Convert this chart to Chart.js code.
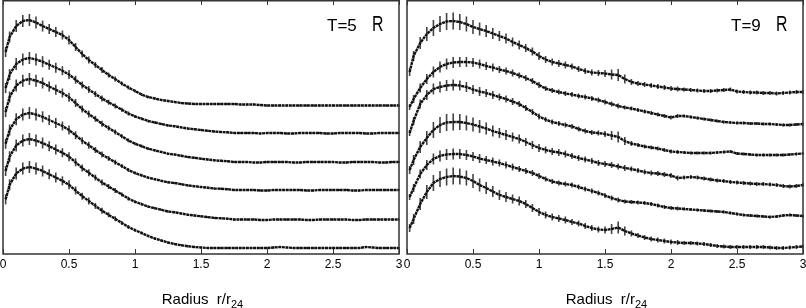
<!DOCTYPE html>
<html><head><meta charset="utf-8">
<script src="https://cdn.jsdelivr.net/npm/chart.js@4.4.1/dist/chart.umd.min.js"></script>
<style>
html,body{margin:0;padding:0;background:#fff;}
#wrap{position:relative;width:806px;height:308px;overflow:hidden;background:#fff;}
canvas{position:absolute;top:0;}
#c1{left:0;}
#c2{left:403px;}
</style></head><body>
<div id="wrap"><canvas id="c1" width="403" height="308"></canvas><canvas id="c2" width="403" height="308"></canvas></div>
<script>
// Radius in units of r24
const radius = [0.02,0.05,0.1,0.15,0.2,0.25,0.3,0.35,0.4,0.45,0.5,0.55,0.6,0.65,0.7,0.75,0.8,0.85,0.9,0.95,
  1.0,1.05,1.1,1.15,1.2,1.25,1.3,1.35,1.4,1.45,1.5,1.55,1.6,1.65,1.7,1.75,1.8,1.85,1.9,1.95,
  2.0,2.05,2.1,2.15,2.2,2.25,2.3,2.35,2.4,2.45,2.5,2.55,2.6,2.65,2.7,2.75,2.8,2.85,2.9,2.95,3.0];

const xTicks = [0,0.5,1,1.5,2,2.5,3];
const xTickLabels = ['0','0.5','1','1.5','2','2.5','3'];
const axisTitle = 'Radius  r/r';
const axisTitleSub = '24';

// Offset profiles (arbitrary units, increasing downward), T=5 panel
const t5p1 = [52,37,26,21,20,22.5,26,29,32,35,40,47,54,60,65,70,75,79,83.5,87.5,
  91,94.5,97,98.5,100,101,102,103,103.5,104,104,104,104,104,104,104,104.5,104.5,104.5,105,
  105.5,105.5,105.5,105.5,105.5,105.5,105.5,105.5,105.5,105.5,105.5,105.5,105.5,105.5,105.5,105.5,105.5,105.5,105.5,105.5,105.5];
const t5p2 = [88,74.5,64,59.5,58,59.5,61.7,64.7,67.7,70.7,74.5,79.7,85,89.5,94,98.5,102.2,106,109.7,113.5,
  116.5,118.7,121,122.5,124,125.5,126.2,127.4,128.5,129.2,130,130.8,131.5,132,132.3,133,133,133,133,133.5,
  133,133,133,133.5,133.5,133,133,133,133,133.5,133.5,133,133,133,133,133.5,133.5,133,133,133,133];
const t5p3 = [112,97,85.6,80.7,79,80.7,83,86.5,89.8,93,97.3,103,109,114,118.8,123.8,128,132,136.3,140.4,
  143.7,146.2,148.7,150.4,152,153.7,154.5,155.8,157,157.8,158.7,159.5,160.3,160.8,161.2,162,162,162,162.5,162.5,
  162,162,162,162,162.5,162.5,162,162,162,162,162,162.5,162.5,162,162,162,162,162.5,162.5,162,162];
const t5p4 = [143.8,130,119.2,114.5,113,114.5,116.8,120,123,126,130,135.3,140.7,145.3,150,154.6,158.4,162.3,166,170,
  173,175.4,177.7,179.2,180.8,182.3,183,184.2,185.4,186.2,187,187.7,188.5,188.8,189.2,190,190,190,190,190.5,
  190.5,190,190,190,190,190,190.5,190.5,190,190,190,190,190,190.5,190.5,190,190,190,190,190,190];
const t5p5 = [171,156.7,145.5,140.6,139,140.6,143,146.2,149.5,152.7,156.7,162.3,168,172.8,177.6,182.5,186.5,190.5,194.5,198.6,
  201.8,204.2,206.6,208.2,209.8,211.5,212.3,213.5,214.7,215.5,216.3,217.1,217.9,218.3,218.7,219.5,219.5,219.5,219.5,220,
  220,219.5,219.5,219.5,219.5,219.5,220,220,219.5,219.5,219.5,219.5,219.5,220,220,219.5,219.5,219.5,219.5,219.5,219.5];
const t5p6 = [199.4,184.8,173.5,168.6,167,168.6,171,174.3,177.5,180.8,184.8,190.5,196.2,201,205.9,210.7,214.8,218.8,222.9,227,
  230.2,233,236,238.5,240.5,242.5,244,245.2,246.2,247,247.5,248,248,248,248,248,248,248,248,248,
  248,247.5,247,247.5,248,248,248,248,248,248,248,248,248,248,248,247,247.5,248,248,248,248];
const t5err = [5,5.5,6,6,6,6,5.5,5,5,4.5,4.5,4,3.5,3.5,3,3,2.5,2.5,2,2,
  1.5,1.5,1.2,1.2,1,1,1,1,1,1,1,1,1,1,1,1,1,1,1,1,
  1,1,1,1,1,1,1,1,1,1,1,1,1,1,1,1,1,1,1,1,1];

// T=9 panel
const t9p1 = [72,56,43,34,28,24,21.5,21,22,24,27,29,31,33.5,36,38.5,42,45,48,51.5,
  56,59.5,62,63.5,65,66.5,69,71,72.5,73,73.5,74.5,75,79,82,83.5,84.5,85.5,86.5,87.5,
  88.5,89,89.5,90,90.5,91,91,90.5,90,89.5,91.5,92,92.5,92.5,93,93,93.5,93,92.5,92,92];
const t9p2 = [107,99,88,79,72,67,64,62.5,62,62,62.5,64,66,67.5,69.5,71,73,75.5,78,81,
  85,88.5,90.5,92,93.5,94.5,96,97,98.5,100,102,104,106,107.5,108.5,110,111.5,113,114.5,116,
  117.5,116,116,117,118,119,120,121,122,122.5,123,123,123.5,123.5,124,124,124.5,125,125,124.5,124];
const t9p3 = [133,121,104,95,89,87,85.5,85,85.5,87,89.5,91.5,93,95,97,99,101.5,104,108,112,
  116.5,119.5,122,123.5,125,126.5,129,131,132.5,133,134,135.5,137,141,143.5,145,146.5,147.5,148.5,150,
  151.5,152,152.5,153,153,153,153,152.5,152,151.5,153.5,154,154.5,155,155,155,155,155,154.5,154,153.5];
const t9p4 = [170,160,147,138,130,125,122.5,122,122,123,124.5,126.5,128.5,131,133,135,137,139,142,145,
  148,150,151.5,152.5,154,156,158,159.5,161,163,164,165,166.5,168,169,170.5,172,173,173.5,174.5,
  175.5,178,177.5,177,177.5,178.5,179.5,180.5,181,182,182.5,183,183.5,184,184,184.5,185,186,186.5,186,185];
const t9p5 = [197,188,174,165,159,156,154.5,154,154,155,156.5,158.5,160,161.5,163,165,167,169,171,173,
  176,179,181.5,183,184,185,187,189,191,193,195.5,198,200,201.5,202,202.5,203,204,205.5,207,
  208,208.5,209,209.5,210,210.5,211,211.5,212,213,214,215,215.5,216,216.5,217,216.5,215.5,215,215.5,216];
const t9p6 = [228,219,204,192,183,179,177,176,176.5,178,181,185,188,191.5,195,197,199,201,204,208,
  212,215,217,218.5,220,222,223.5,226,228,229.5,230,229,227.5,231,233.5,235.5,237.5,239,240,241,
  242,242.5,243,243,243.5,244,245,246,246.5,247,247,247,247,247,247,247.5,248,248,247.5,247,246.5];
const t9errA = [4,5,6,7,8,8,8.5,8.5,8,7.5,7,6.5,6,5.5,5,5,4.5,4.5,4,4,
  4,3.5,3.5,3.5,3.5,3,3,3,3,3,3.5,5,6,4.5,3,2.5,2.5,2.5,2.5,2.5,
  2.5,2.5,2,2,2,2,2,2,2,2,2,2,2,2,2,2,2,2,2,2,2];
const t9errB = [4,5,6,7,8,8,8.5,8.5,8,7.5,7,6.5,6,5.5,5,5,4.5,4.5,4,4,
  4,3.5,3.5,3.5,3.5,3,3,3,3,3,3,3,3,3,2.5,2.5,2.5,2.5,2.5,2.5,
  2.5,2.5,2,2,2,2,2,2,2,2,2,2,2,2,2,2,2,2,2,2,2];
const t9errC = [3,4,4.5,5,5.5,5.5,5.5,5.5,5,5,4.5,4.5,4,4,3.5,3.5,3.5,3,3,3,
  3,2.5,2.5,2.5,2.5,2.5,2.5,2.5,2.5,2.5,3,4.5,5.5,4,2.5,2,2,2,2,2,
  2,2,1.5,1.5,1.5,1.5,1.5,1.5,1.5,1.5,1.5,1.5,1.5,1.5,1.5,1.5,1.5,1.5,1.5,1.5,1.5];
const t9errD = [3,4,4.5,5,5.5,5.5,5.5,5.5,5,5,4.5,4.5,4,4,3.5,3.5,3.5,3,3,3,
  3,2.5,2.5,2.5,2.5,2.5,2.5,2.5,2.5,2.5,2.5,2.5,2.5,2,2,2,2,2,2,2,
  2,2,1.5,1.5,1.5,1.5,1.5,1.5,1.5,1.5,1.5,1.5,1.5,1.5,1.5,1.5,1.5,1.5,1.5,1.5,1.5];

const FONT = '"Liberation Sans", Arial, Helvetica, sans-serif';

function ds(vals, errs) {
  return {
    data: radius.map((r, i) => ({x: r, y: vals[i]})),
    errors: errs,
    borderColor: '#111',
    borderWidth: 2.4,
    borderDash: [3, 0.6],
    pointRadius: 0,
    tension: 0,
    fill: false
  };
}

const errorBarPlugin = {
  id: 'errbars',
  beforeDatasetsDraw(chart) {
    const ctx = chart.ctx, ys = chart.scales.y;
    ctx.save();
    ctx.strokeStyle = '#444';
    ctx.lineWidth = 1.6;
    chart.data.datasets.forEach((d, i) => {
      const meta = chart.getDatasetMeta(i);
      meta.data.forEach((pt, j) => {
        const v = d.data[j].y, e = d.errors[j];
        const x = pt.x;
        ctx.beginPath();
        ctx.moveTo(x, ys.getPixelForValue(v - e));
        ctx.lineTo(x, ys.getPixelForValue(v + e));
        ctx.stroke();
      });
    });
    ctx.restore();
  }
};

const framePlugin = {
  id: 'frame',
  afterDraw(chart, args, opts) {
    const ctx = chart.ctx, a = chart.chartArea, xs = chart.scales.x;
    ctx.save();
    ctx.strokeStyle = '#333';
    ctx.lineWidth = 1.5;
    ctx.strokeRect(a.left, a.top + 0.75, a.right - a.left, a.bottom - a.top - 0.75);
    ctx.lineWidth = 1;
    xTicks.forEach(t => {
      const x = Math.round(xs.getPixelForValue(t)) + 0.5;
      ctx.beginPath();
      ctx.moveTo(x, a.bottom); ctx.lineTo(x, a.bottom - 5);
      ctx.moveTo(x, a.top); ctx.lineTo(x, a.top + 5);
      ctx.stroke();
    });
    ctx.fillStyle = '#000';
    ctx.font = '12px ' + FONT;
    ctx.textAlign = 'center';
    ctx.textBaseline = 'middle';
    xTicks.forEach((t, i) => {
      ctx.fillText(xTickLabels[i], xs.getPixelForValue(t), 265);
    });
    // axis title with subscript
    ctx.textAlign = 'left';
    ctx.textBaseline = 'alphabetic';
    ctx.font = '15px ' + FONT;
    const w1 = ctx.measureText(axisTitle).width;
    ctx.font = '11px ' + FONT;
    const w2 = ctx.measureText(axisTitleSub).width;
    const cx = (a.left + a.right) / 2 + 1.5;
    const sx = cx - (w1 + w2) / 2;
    ctx.font = '15px ' + FONT;
    ctx.fillText(axisTitle, sx, 304);
    ctx.font = '11px ' + FONT;
    ctx.fillText(axisTitleSub, sx + w1, 307.5);
    // panel label
    ctx.font = '17px ' + FONT;
    ctx.fillText(opts.label, a.right - 72, 31);
    ctx.translate(a.right - 27, 31);
    ctx.scale(0.72, 1);
    ctx.font = '22px ' + FONT;
    ctx.fillText(opts.band, 0, 0);
    ctx.restore();
  }
};

function makePanel(id, sets, label, band, padL, padR) {
  return new Chart(document.getElementById(id), {
    type: 'line',
    data: {datasets: sets},
    options: {
      responsive: false,
      animation: false,
      events: [],
      layout: {padding: {left: padL, right: padR, top: 0, bottom: 54}},
      scales: {
        x: {type: 'linear', min: 0, max: 3, display: false},
        y: {type: 'linear', min: 0, max: 254, reverse: true, display: false}
      },
      plugins: {
        legend: {display: false},
        tooltip: {enabled: false},
        frame: {label: label, band: band}
      }
    },
    plugins: [errorBarPlugin, framePlugin]
  });
}

makePanel('c1', [
  ds(t5p1, t5err), ds(t5p2, t5err), ds(t5p3, t5err),
  ds(t5p4, t5err), ds(t5p5, t5err), ds(t5p6, t5err)
], 'T=5', 'R', 3, 4);

makePanel('c2', [
  ds(t9p1, t9errA), ds(t9p2, t9errD), ds(t9p3, t9errC),
  ds(t9p4, t9errB), ds(t9p5, t9errD), ds(t9p6, t9errA)
], 'T=9', 'R', 4, 3);
</script>
</body></html>
